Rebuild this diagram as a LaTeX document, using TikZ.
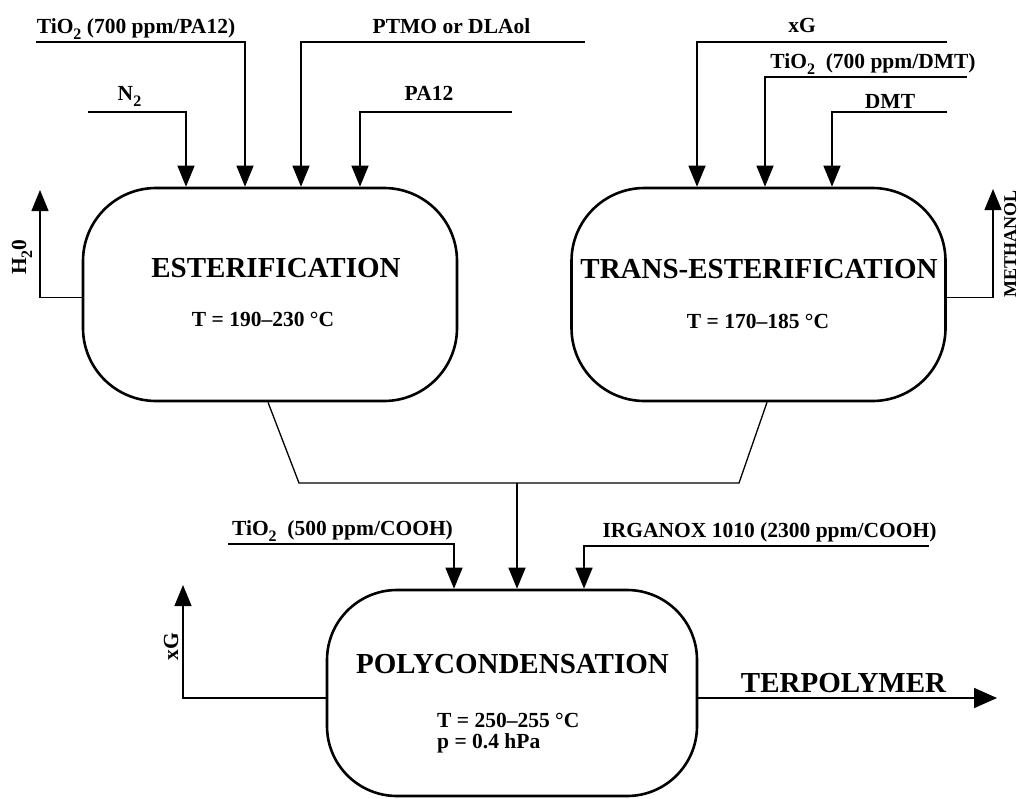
\documentclass[tikz,border=0pt]{standalone}
\usepackage{fontspec}
\setmainfont{Liberation Serif}
\usepackage{tikz}
\usetikzlibrary{arrows.meta}

\newcommand{\chemsub}[1]{\raisebox{-6pt}{\fontsize{16}{16}\selectfont #1}}

\begin{document}
\begin{tikzpicture}[
  x=1pt, y=-1pt,
  box/.style={rectangle, draw, line width=2.6pt, rounded corners=73pt,
    minimum width=374pt, minimum height=213pt},
  title/.style={font=\fontsize{29}{32}\selectfont\bfseries, anchor=base, inner sep=0pt},
  lbl/.style={font=\fontsize{21.5}{24}\selectfont\bfseries, anchor=base, inner sep=0pt},
  feed/.style={-{Triangle[length=21pt, width=17pt]}, line width=1.3pt},
  pipe/.style={line width=1.3pt}
]
  \useasboundingbox (0,0) rectangle (1019,798);

  % reactors
  \node[box] (est) at (270,294.5) {};
  \node[box] (trans) at (758.5,294.5) {};
  \node[box, rounded corners=70pt, minimum width=370pt, minimum height=206pt] (poly) at (512,693) {};

  \node[title] (esttitle) at (276,277) {ESTERIFICATION};
  \node[lbl] (esttemp) at (263,326) {T = 190–230 °C};
  \node[title] (transtitle) at (759,278) {TRANS-ESTERIFICATION};
  \node[lbl] (transtemp) at (758,328) {T = 170–185 °C};
  \node[title] (polytitle) at (512.5,673) {POLYCONDENSATION};
  \node[lbl, anchor=base west] (polytemp) at (437,727) {T = 250–255 °C};
  \node[lbl, anchor=base west] (polypres) at (437,748) {p = 0.4 hPa};

  % esterification feeds
  \node[lbl] (tioalbl) at (136,33) {TiO\chemsub{2} (700 ppm/PA12)};
  \node[lbl] (ptmolbl) at (451.5,33) {PTMO or DLAol};
  \node[lbl] (ntwolbl) at (129.5,100) {N\chemsub{2}};
  \node[lbl] (palbl) at (429,100) {PA12};
  \coordinate (tioa) at (36,42);
  \coordinate (ptmo) at (585,42);
  \coordinate (ntwo) at (88,112);
  \coordinate (pa) at (512,112);
  \draw[feed] (ntwo) -| ([xshift=-84pt]est.north);
  \draw[feed] (tioa) -| ([xshift=-25pt]est.north);
  \draw[feed] (ptmo) -| ([xshift=31pt]est.north);
  \draw[feed] (pa) -| ([xshift=90pt]est.north);

  % trans-esterification feeds
  \node[lbl] (xglbl) at (802,32) {xG};
  \node[lbl] (tioblbl) at (873,68) {TiO\chemsub{2}\ \ (700 ppm/DMT)};
  \node[lbl] (dmtlbl) at (890,108) {DMT};
  \coordinate (xg) at (947,42);
  \coordinate (tiob) at (967,77);
  \coordinate (dmt) at (947,112);
  \draw[feed] (xg) -| ([xshift=-61.5pt]trans.north);
  \draw[feed] (tiob) -| ([xshift=6.5pt]trans.north);
  \draw[feed] (dmt) -| ([xshift=73.5pt]trans.north);

  % vapours
  \coordinate (water) at (40,190);
  \coordinate (meoh) at (993,189);
  \draw[feed] ([yshift=-3pt]est.west) -| (water);
  \draw[feed] ([yshift=-3pt]trans.east) -| (meoh);
  \node[lbl, anchor=center, rotate=90] (waterlbl) at (22,257) {H\chemsub{2}0};
  \node[lbl, anchor=north, rotate=90, font=\fontsize{18}{20}\selectfont\bfseries] (meohlbl) at (1004,244) {METHANOL};

  % merge to polycondensation
  \coordinate (mixl) at (299,483);
  \coordinate (mixr) at (739,483);
  \coordinate (mix) at (517,483);
  \draw[pipe] ([xshift=-2pt]est.south) -- (mixl) -- (mixr) -- ([xshift=8.5pt]trans.south);
  \draw[feed] (mix) -- (mix |- poly.north);

  \node[lbl] (tioclbl) at (342.5,535) {TiO\chemsub{2}\ \ (500 ppm/COOH)};
  \node[lbl] (irglbl) at (769.5,537) {IRGANOX 1010 (2300 ppm/COOH)};
  \coordinate (tioc) at (228,544);
  \coordinate (irg) at (929,546);
  \draw[feed] (tioc) -| ([xshift=-58pt]poly.north);
  \draw[feed] (irg) -| ([xshift=72pt]poly.north);

  % products
  \coordinate (xgout) at (183,585);
  \coordinate (terp) at (997,698);
  \draw[feed] ([yshift=-5pt]poly.west) -| (xgout);
  \node[lbl, anchor=center, rotate=90] (xgoutlbl) at (171,647) {xG};
  \draw[-{Triangle[length=23pt, width=20pt]}, line width=1.8pt] ([yshift=-5pt]poly.east) -- (terp);
  \node[title] (terplbl) at (843.5,692) {TERPOLYMER};
\end{tikzpicture}
\end{document}
